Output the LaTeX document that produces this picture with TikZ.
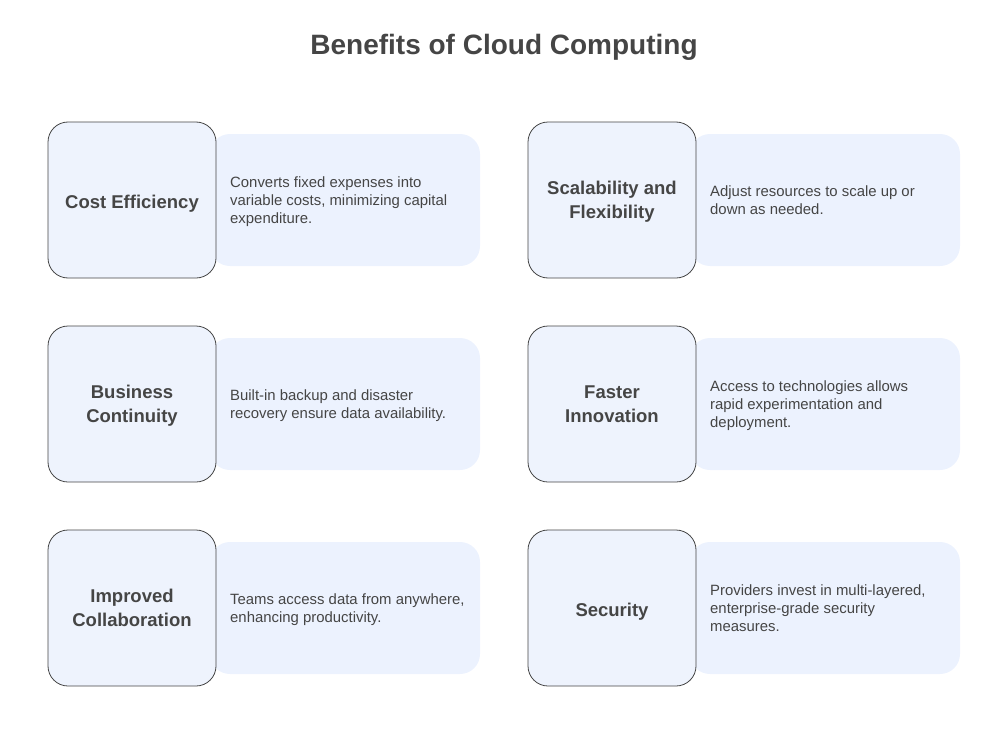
\documentclass[tikz,border=0pt]{standalone}
\usepackage{fontspec}
\setmainfont{Liberation Sans}
\definecolor{cardbg}{HTML}{ECF2FE}
\definecolor{keybg}{HTML}{EEF3FD}
\definecolor{inkgray}{HTML}{454545}

\begin{document}
\begin{tikzpicture}[x=1pt,y=-1pt,
	keybox/.style={draw=inkgray, line width=0.8pt, fill=keybg, rounded corners=20pt,
		minimum width=168pt, minimum height=156pt},
	keytext/.style={align=center, inner sep=0pt, text=inkgray, yshift=-3.5pt,
		execute at end node=\strut, font=\bfseries\fontsize{18.5}{24}\selectfont},
	descbox/.style={fill=cardbg, rounded corners=20pt, minimum width=270pt, minimum height=132pt},
	desctext/.style={anchor=west, align=left, inner sep=0pt, text=inkgray, yshift=-2.5pt,
		execute at end node=\strut, font=\fontsize{14.9}{18}\selectfont}]
	\useasboundingbox (0,0) rectangle (1008,733);
	\node[text=inkgray, font=\bfseries\fontsize{28}{32}\selectfont] (title) at (504,47.5) {Benefits of Cloud Computing};
	% left column
	\node[descbox] (costbg) at (345,200) {};
	\node[keybox] (cost) at (132,200) {};
	\node[keytext] (costkey) at (cost) {Cost Efficiency};
	\node[desctext] (costtxt) at (230,200) {Converts fixed expenses into\\variable costs, minimizing capital\\expenditure.};
	\node[descbox] (contbg) at (345,404) {};
	\node[keybox] (cont) at (132,404) {};
	\node[keytext] (contkey) at (cont) {Business\\Continuity};
	\node[desctext] (conttxt) at (230,404) {Built-in backup and disaster\\recovery ensure data availability.};
	\node[descbox] (collabbg) at (345,608) {};
	\node[keybox] (collab) at (132,608) {};
	\node[keytext] (collabkey) at (collab) {Improved\\Collaboration};
	\node[desctext] (collabtxt) at (230,608) {Teams access data from anywhere,\\enhancing productivity.};
	% right column
	\node[descbox] (scalebg) at (825,200) {};
	\node[keybox] (scale) at (612,200) {};
	\node[keytext] (scalekey) at (scale) {Scalability and\\Flexibility};
	\node[desctext] (scaletxt) at (710,200) {Adjust resources to scale up or\\down as needed.};
	\node[descbox] (innovbg) at (825,404) {};
	\node[keybox] (innov) at (612,404) {};
	\node[keytext] (innovkey) at (innov) {Faster\\Innovation};
	\node[desctext] (innovtxt) at (710,404) {Access to technologies allows\\rapid experimentation and\\deployment.};
	\node[descbox] (secbg) at (825,608) {};
	\node[keybox] (sec) at (612,608) {};
	\node[keytext] (seckey) at (sec) {Security};
	\node[desctext] (sectxt) at (710,608) {Providers invest in multi-layered,\\enterprise-grade security\\measures.};
\end{tikzpicture}
\end{document}
